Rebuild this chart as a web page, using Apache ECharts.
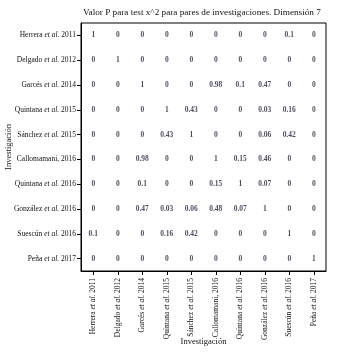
<!DOCTYPE html>
<html>
<head>
<meta charset="utf-8">
<script src="https://cdn.jsdelivr.net/npm/echarts@6/dist/echarts.min.js"></script>
<style>
  html, body { margin: 0; padding: 0; background: #fff; }
  #chart { width: 339px; height: 352px; }
</style>
</head>
<body>
<div id="chart"></div>
<script>
// investigaciones (same order on both axes)
var investigaciones = [
  'Herrera et al. 2011', 'Delgado et al. 2012', 'Garcés et al. 2014',
  'Quintana et al. 2015', 'Sánchez et al. 2015', 'Callomamani, 2016',
  'Quintana et al. 2016', 'González et al. 2016', 'Suescún et al. 2016',
  'Peña et al. 2017'
];

// p-values, one row per investigación
var herrera2011   = [1, 0, 0, 0, 0, 0, 0, 0, 0.1, 0];
var delgado2012   = [0, 1, 0, 0, 0, 0, 0, 0, 0, 0];
var garces2014    = [0, 0, 1, 0, 0, 0.98, 0.1, 0.47, 0, 0];
var quintana2015  = [0, 0, 0, 1, 0.43, 0, 0, 0.03, 0.16, 0];
var sanchez2015   = [0, 0, 0, 0.43, 1, 0, 0, 0.06, 0.42, 0];
var callomamani16 = [0, 0, 0.98, 0, 0, 1, 0.15, 0.46, 0, 0];
var quintana2016  = [0, 0, 0.1, 0, 0, 0.15, 1, 0.07, 0, 0];
var gonzalez2016  = [0, 0, 0.47, 0.03, 0.06, 0.48, 0.07, 1, 0, 0];
var suescun2016   = [0.1, 0, 0, 0.16, 0.42, 0, 0, 0, 1, 0];
var pena2017      = [0, 0, 0, 0, 0, 0, 0, 0, 0, 1];

var filas = [herrera2011, delgado2012, garces2014, quintana2015, sanchez2015,
  callomamani16, quintana2016, gonzalez2016, suescun2016, pena2017];

var data = [];
filas.forEach(function (fila, i) {
  fila.forEach(function (v, j) {
    data.push([investigaciones[j], investigaciones[i], v]);
  });
});

var FONT = '"Liberation Serif", "Times New Roman", serif';

function etiqueta(v) {
  return v.replace(' et al.', ' {i|et al.}');
}
var richLbl = {
  i: { fontStyle: 'italic', fontFamily: FONT, fontSize: 7.5, color: '#111' }
};

var chart = echarts.init(document.getElementById('chart'));
var option = {
  animation: false,
  title: {
    text: 'Valor P para test x^2 para pares de investigaciones. Dimensión 7',
    left: 78,
    top: 3,
    textStyle: { fontFamily: FONT, fontSize: 9.2, fontWeight: 'normal', color: '#111' }
  },
  grid: {
    left: 81, right: 13, top: 23, bottom: 81,
    outerBoundsMode: 'none',
    containLabel: false,
    show: true, borderColor: '#000', borderWidth: 1
  },
  xAxis: {
    type: 'category',
    data: investigaciones,
    name: 'Investigación',
    nameLocation: 'middle',
    nameGap: 66,
    nameMoveOverlap: false,
    nameTextStyle: { fontFamily: FONT, fontSize: 8.5, color: '#111' },
    axisLine: { show: true, lineStyle: { color: '#000', width: 1 } },
    axisTick: { show: true, alignWithLabel: true, length: 4, lineStyle: { color: '#000' } },
    axisLabel: {
      rotate: 90, margin: 7, interval: 0,
      fontFamily: FONT, fontSize: 7.5, color: '#111',
      formatter: etiqueta, rich: richLbl
    },
    splitLine: { show: false }
  },
  yAxis: {
    type: 'category',
    data: investigaciones,
    inverse: true,
    name: 'Investigación',
    nameLocation: 'middle',
    nameGap: 68,
    nameMoveOverlap: false,
    nameTextStyle: { fontFamily: FONT, fontSize: 8.5, color: '#111' },
    axisLine: { show: true, lineStyle: { color: '#000', width: 1 } },
    axisTick: { show: true, alignWithLabel: true, length: 4, lineStyle: { color: '#000' } },
    axisLabel: {
      margin: 5, interval: 0,
      fontFamily: FONT, fontSize: 7.5, color: '#111',
      formatter: etiqueta, rich: richLbl
    },
    splitLine: { show: false }
  },
  series: [{
    type: 'scatter',
    data: data,
    symbolSize: 1,
    itemStyle: { color: 'rgba(0,0,0,0)' },
    label: {
      show: true,
      position: 'inside',
      fontFamily: FONT,
      fontSize: 7.5,
      fontWeight: 'bold',
      color: '#1b1b3a',
      formatter: function (p) { return String(p.value[2]); }
    }
  }]
};
chart.setOption(option);
</script>
</body>
</html>
